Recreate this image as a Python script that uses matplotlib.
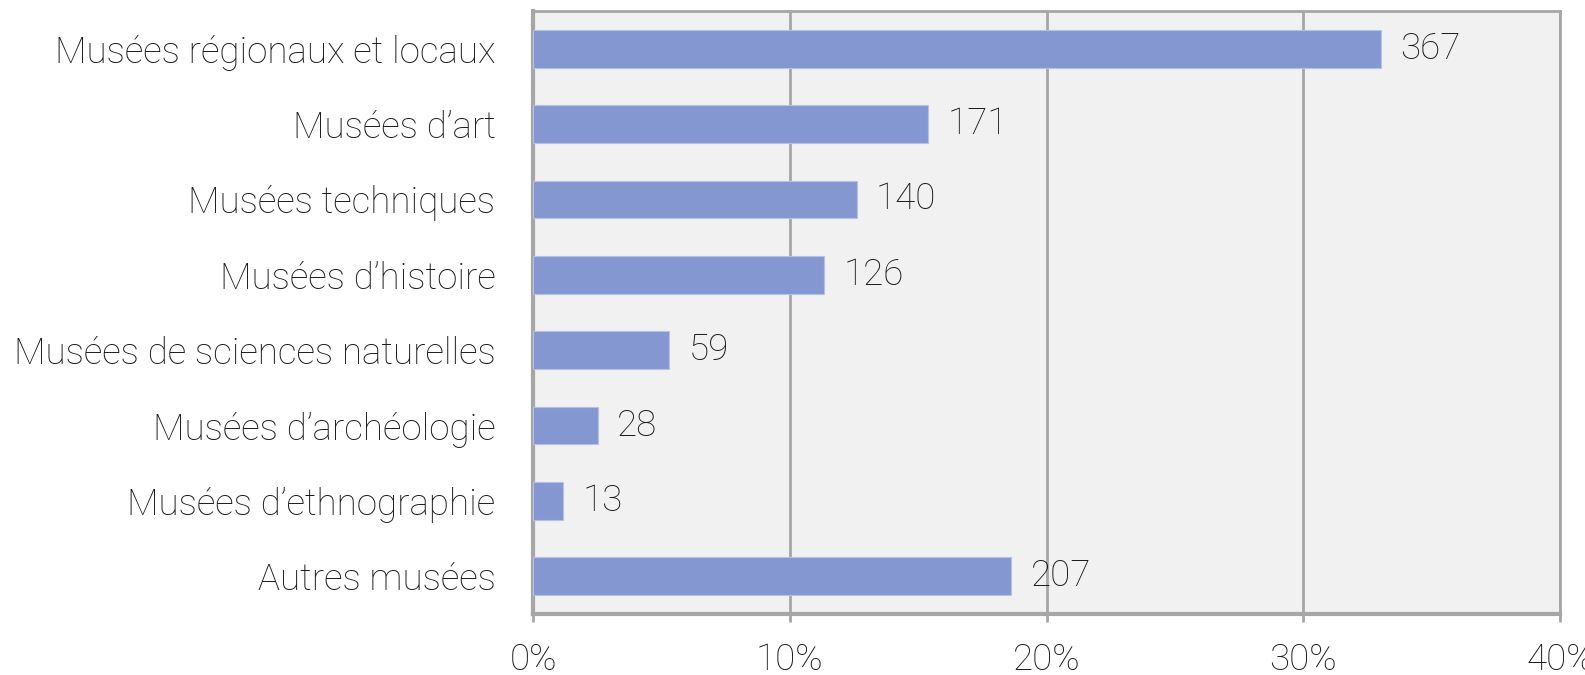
import numpy as np
import matplotlib
matplotlib.use("Agg")
import matplotlib.pyplot as plt

categories = ["Musées régionaux et locaux", "Musées d’art", "Musées techniques",
              "Musées d’histoire", "Musées de sciences naturelles",
              "Musées d’archéologie", "Musées d’ethnographie", "Autres musées"]
counts = [367, 171, 140, 126, 59, 28, 13, 207]
x_ticks = [0, 10, 20, 30, 40]
x_tick_labels = ["0%", "10%", "20%", "30%", "40%"]

total = sum(counts)
shares = [c / total * 100 for c in counts]

plt.rcParams['font.family'] = ['Roboto', 'DejaVu Sans']
plt.rcParams['font.weight'] = 'light'

fig = plt.figure(figsize=(15.85, 6.75), dpi=100)
ax = fig.add_axes([533 / 1585, 1 - 614 / 675, (1560 - 533) / 1585, (614 - 11) / 675])

grey = "#a6a6a6"
txt = "#1a1a1a"
ax.set_facecolor("#f1f1f1")
y = np.arange(len(categories))
ax.barh(y, shares, height=0.5, color="#8497d0", edgecolor="#b7c1e3", linewidth=0.8, zorder=3)

for yi, s, c in zip(y, shares, counts):
    ax.text(s + 0.75, yi, str(c), va="center", ha="left", fontsize=26.5,
            color=txt, fontweight="light", zorder=4)

ax.set_ylim(len(categories) - 0.5, -0.5)
ax.set_xlim(0, 40)
ax.set_yticks(y)
ax.set_yticklabels(categories, fontsize=26.5, color=txt, fontweight="light")
ax.set_xticks(x_ticks)
ax.set_xticklabels(x_tick_labels, fontsize=26.5, color=txt, fontweight="light")
ax.tick_params(axis="y", length=0, pad=27)
ax.tick_params(axis="x", length=6, width=2, color=grey, pad=14)

ax.xaxis.grid(True, color=grey, linewidth=2, zorder=1)
for side in ["left", "bottom"]:
    ax.spines[side].set_color(grey)
    ax.spines[side].set_linewidth(3)
for side in ["top", "right"]:
    ax.spines[side].set_color(grey)
    ax.spines[side].set_linewidth(2)

fig.savefig("out.png", dpi=100)
